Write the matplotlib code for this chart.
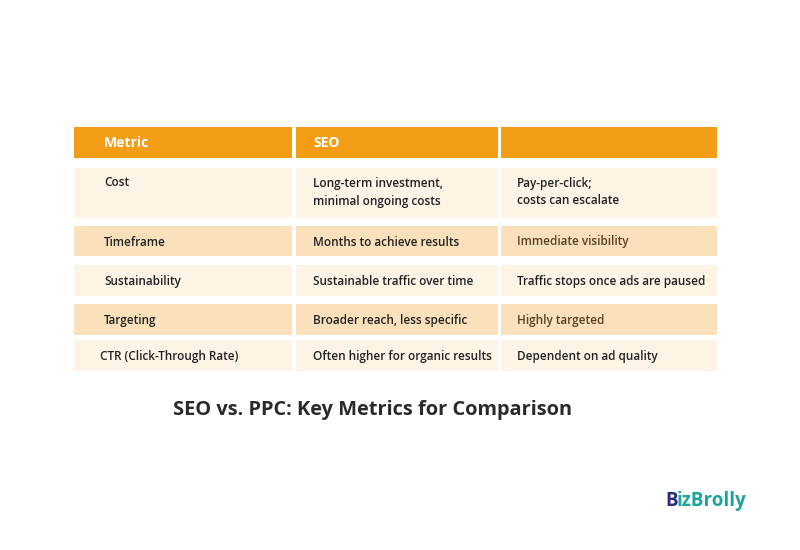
import matplotlib.pyplot as plt
from matplotlib.patches import Rectangle

plt.rcParams["font.family"] = "Open Sans"

HEADERS = ["Metric", "SEO", ""]
METRICS = ["Cost", "Timeframe", "Sustainability", "Targeting", "CTR (Click-Through Rate)"]
SEO = ["Long-term investment,\nminimal ongoing costs", "Months to achieve results",
       "Sustainable traffic over time", "Broader reach, less specific",
       "Often higher for organic results"]
PPC = ["Pay-per-click;\ncosts can escalate", "Immediate visibility",
       "Traffic stops once ads are paused", "Highly targeted", "Dependent on ad quality"]
TITLE = "SEO vs. PPC: Key Metrics for Comparison"

# layout in pixel units
COL_X = [(74, 292), (296, 498), (501, 717)]
TEXT_X = [104, 313, 517]
HEADER_Y = (127, 158)
ROW_Y = [(168, 218), (226, 256), (265, 296), (304, 335), (340, 371)]
ROW_FILL = ["#FDF4E6", "#FAE1BC", "#FDF4E6", "#FAE1BC", "#FDF4E6"]
ORANGE = "#F39D17"

fig = plt.figure(figsize=(8, 5.5), dpi=100)
ax = fig.add_axes([0, 0, 1, 1])
ax.set_xlim(0, 800)
ax.set_ylim(550, 0)
ax.axis("off")

for (x0, x1), tx, label in zip(COL_X, TEXT_X, HEADERS):
    ax.add_patch(Rectangle((x0, HEADER_Y[0]), x1 - x0, HEADER_Y[1] - HEADER_Y[0],
                           color=ORANGE, lw=0))
    ax.text(tx, 143, label, color="white", fontsize=10, fontweight="bold", va="center")

for i, (y0, y1) in enumerate(ROW_Y):
    for (x0, x1) in COL_X:
        ax.add_patch(Rectangle((x0, y0), x1 - x0, y1 - y0, color=ROW_FILL[i], lw=0))
    yc = 192 if i == 0 else (y0 + y1) / 2 + 1
    tx0 = TEXT_X[0] - 4 if i == 4 else TEXT_X[0]
    ax.text(tx0, 183 if i == 0 else yc, METRICS[i], fontsize=8.5, color="#222222",
            va="center", fontweight="semibold")
    ax.text(TEXT_X[1], yc, SEO[i], fontsize=8.5, color="#222222", va="center",
            linespacing=1.5, fontweight="semibold")
    ax.text(TEXT_X[2], yc, PPC[i], fontsize=8.5,
            color="#5a4020" if i in (1, 3) else "#222222", va="center",
            linespacing=1.5, fontweight="semibold")

ax.text(373, 410, TITLE, fontsize=14.4, fontweight="bold", color="#2a2a2a",
        ha="center", va="center")

# logo
ax.text(665, 501, "B", fontsize=13.5, fontweight="bold", color="#2B2F7A", va="center")
ax.text(677, 501, "izBrolly", fontsize=13.5, fontweight="bold", color="#1BA39C", va="center")

fig.savefig("out.png", dpi=100)
